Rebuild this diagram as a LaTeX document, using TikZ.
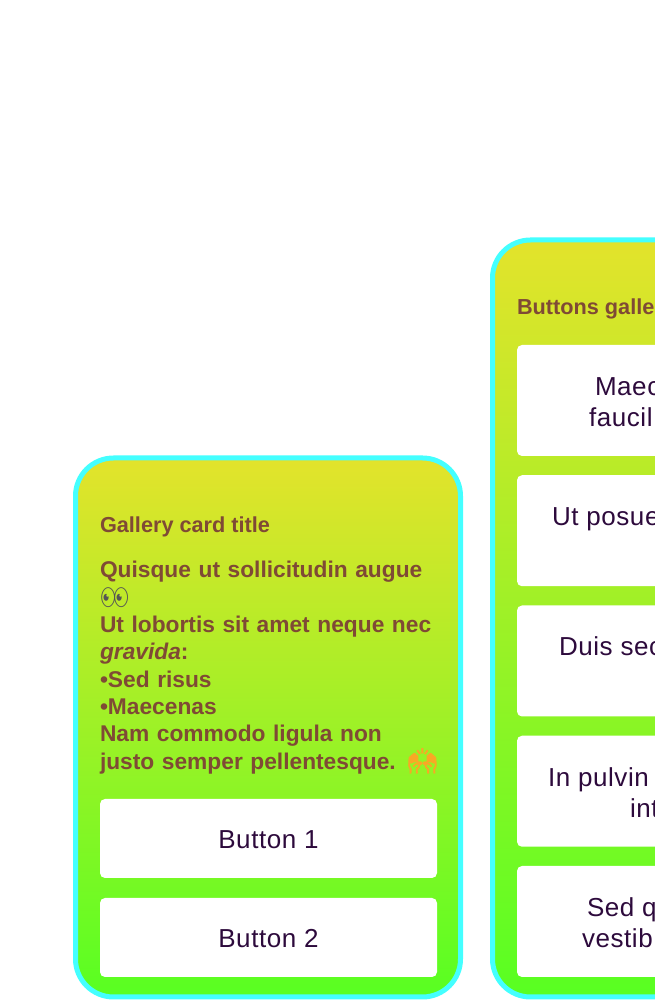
\documentclass[tikz,border=0pt]{standalone}
\usepackage{fontspec}
\usepackage{xcolor}
\usepackage{tikz}
\usetikzlibrary{positioning}
\setmainfont{Liberation Sans}
\newfontfamily\btnfont[LetterSpace=2.2]{Liberation Sans}
\newfontfamily\emojifont{Noto Emoji}
\newfontfamily\handfont[FakeBold=4]{Noto Emoji}
\definecolor{cardtop}{HTML}{E3E32B}
\definecolor{cardbottom}{HTML}{58FF22}
\definecolor{cardedge}{HTML}{44FFFF}
\definecolor{cardtext}{HTML}{7F4A35}
\definecolor{btntext}{HTML}{2D0A3C}
\definecolor{handcolor}{HTML}{F9A825}
\definecolor{eyecolor}{HTML}{555555}

\begin{document}
\begin{tikzpicture}[
		x=1pt, y=1pt,
		card/.style={rectangle, draw=cardedge, line width=5pt, top color=cardtop, bottom color=cardbottom, rounded corners=38pt, outer sep=0pt, inner sep=0pt, minimum width=385pt},
		btn/.style={rectangle, fill=white, rounded corners=5pt, outer sep=0pt, inner sep=0pt, minimum width=337pt},
		btnlabel/.style={inner sep=0pt, outer sep=0pt, text=btntext, font=\btnfont\fontsize{26}{30}\selectfont},
		cardtitle/.style={inner sep=0pt, outer sep=0pt, text=cardtext, font=\bfseries\fontsize{21.7}{25}\selectfont},
		]
		\useasboundingbox (0,0) rectangle (654,1000);

		%Gallery card
		\node[card, minimum height=539pt]	(gallery_card)	at (268,272.5)	{};
		\node[cardtitle, anchor=base west]	(gallery_title)	at (100,467)	{Gallery card title};
		\node[anchor=north west, inner sep=0pt, outer sep=0pt, text=cardtext, text width=345pt, align=left, font=\bfseries\fontsize{22.75}{27.3}\selectfont]	(gallery_body)	at (100,438.5)	{Quisque ut sollicitudin augue\\
			{\emojifont\color{eyecolor}\mdseries\fontsize{23}{27.3}\selectfont\symbol{"1F440}}\\
			Ut lobortis sit amet neque nec\\
			\textit{gravida}:\\
			•Sed risus\\
			•Maecenas\\
			Nam commodo ligula non\\
			justo semper pellentesque. {\handfont\color{handcolor}\mdseries\fontsize{24}{27.3}\selectfont\symbol{"1F64C}}};
		\node[btn, minimum height=79pt]	(btn_one)	at (268.5,161.5)	{};
		\node[btn, minimum height=79pt]	(btn_two)	[below=20pt of btn_one]	{};
		\node[btnlabel, yshift=-1.5pt]	(btn_one_text)	at (btn_one)	{Button 1};
		\node[btnlabel, yshift=-1.5pt]	(btn_two_text)	at (btn_two)	{Button 2};

		%Buttons gallery
		\node[card, minimum height=757pt]	(buttons_card)	at (685,381.5)	{};
		\node[cardtitle, anchor=base west]	(buttons_title)	at (517,685)	{Buttons galle};
		\node[btn, minimum height=111pt]	(btn_a)	at (685.5,599.5)	{};
		\node[btn, minimum height=111pt]	(btn_b)	[below=19.25pt of btn_a]	{};
		\node[btn, minimum height=111pt]	(btn_c)	[below=19.25pt of btn_b]	{};
		\node[btn, minimum height=111pt]	(btn_d)	[below=19.25pt of btn_c]	{};
		\node[btn, minimum height=111pt]	(btn_e)	[below=19.25pt of btn_d]	{};

		%Button texts
		\node[btnlabel, anchor=base west]	(a_one)		at (595,604)	{Maec};
		\node[btnlabel, anchor=base west]	(a_two)		at (589,573)	{faucil};
		\node[btnlabel, anchor=base west]	(b_one)		at (552,474)	{Ut posue};
		\node[btnlabel, anchor=base west]	(c_one)		at (559,344)	{Duis sec};
		\node[btnlabel, anchor=base west]	(d_one)		at (548,213.5)	{In pulvin};
		\node[btnlabel, anchor=base west]	(d_two)		at (630,182.5)	{int};
		\node[btnlabel, anchor=base west]	(e_one)		at (587,83.5)	{Sed q};
		\node[btnlabel, anchor=base west]	(e_two)		at (582,52.5)	{vestib};

	\end{tikzpicture}
\end{document}
